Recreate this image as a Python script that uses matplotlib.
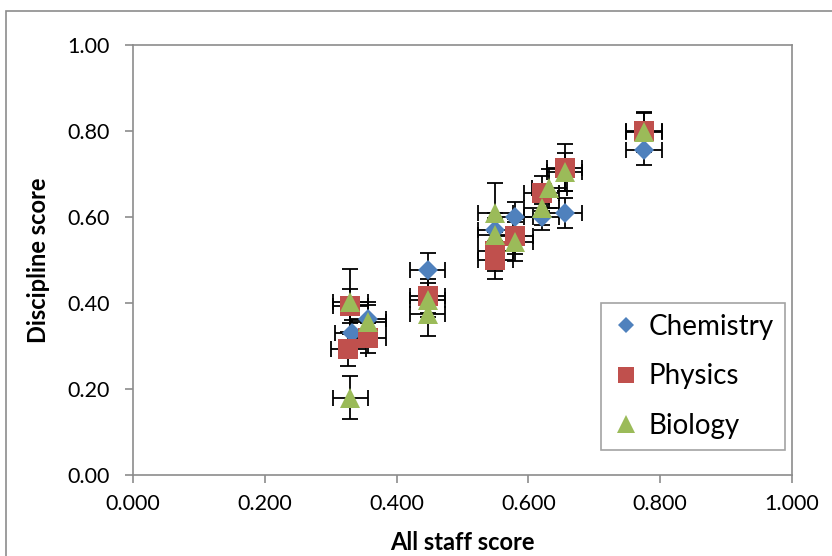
import matplotlib
matplotlib.use("Agg")
import matplotlib.pyplot as plt
from matplotlib.patches import Rectangle
from matplotlib.ticker import FormatStrFormatter

plt.rcParams['font.family'] = ['Lato', 'DejaVu Sans']

# Chemistry
chem_x = [0.333, 0.357, 0.447, 0.550, 0.580, 0.620, 0.655, 0.775]
chem_y = [0.330, 0.362, 0.477, 0.570, 0.600, 0.600, 0.610, 0.755]
chem_err = [0.030, 0.040, 0.040, 0.040, 0.035, 0.030, 0.035, 0.035]

# Physics
phys_x = [0.327, 0.330, 0.357, 0.447, 0.550, 0.550, 0.580, 0.620, 0.655, 0.775]
phys_y = [0.293, 0.393, 0.318, 0.416, 0.520, 0.500, 0.555, 0.655, 0.715, 0.800]
phys_err = [0.040, 0.040, 0.035, 0.040, 0.045, 0.045, 0.040, 0.040, 0.055, 0.045]

# Biology
bio_x = [0.330, 0.330, 0.357, 0.447, 0.447, 0.550, 0.550, 0.580, 0.620, 0.632, 0.655, 0.775]
bio_y = [0.180, 0.403, 0.355, 0.407, 0.374, 0.610, 0.558, 0.543, 0.622, 0.667, 0.705, 0.797]
bio_err = [0.050, 0.075, 0.040, 0.040, 0.050, 0.070, 0.040, 0.045, 0.040, 0.045, 0.045, 0.045]

x_err = 0.027

series = [
    ("Chemistry", chem_x, chem_y, chem_err, "D", "#4F81BD", 10),
    ("Physics", phys_x, phys_y, phys_err, "s", "#C0504D", 14),
    ("Biology", bio_x, bio_y, bio_err, "^", "#9BBB59", 14.5),
]

xticks = [0.0, 0.2, 0.4, 0.6, 0.8, 1.0]
yticks = [0.0, 0.2, 0.4, 0.6, 0.8, 1.0]

fig = plt.figure(figsize=(8.32, 5.56), dpi=100)
ax = fig.add_axes([133/832, 1-475/556, (792-133)/832, (475-45)/556])

# outer chart frame
fig.patches.append(Rectangle((6/832, -0.05), 1.2, 1-11/556+0.05,
                             transform=fig.transFigure, fill=False,
                             edgecolor="#8c8c8c", linewidth=1.2))

for name, xs, ys, es, m, c, ms in series:
    ax.errorbar(xs, ys, yerr=es, xerr=x_err, fmt="none", ecolor="black",
                elinewidth=1.3, capsize=6, capthick=1.3, zorder=2)

for name, xs, ys, es, m, c, ms in series:
    ax.plot(xs, ys, linestyle="none", marker=m, color=c, markersize=ms,
            markeredgewidth=0, label=name, zorder=3)

ax.set_xlim(0, 1.0)
ax.set_ylim(0, 1.0)
ax.set_xticks(xticks)
ax.set_yticks(yticks)
ax.xaxis.set_major_formatter(FormatStrFormatter("%.3f"))
ax.yaxis.set_major_formatter(FormatStrFormatter("%.2f"))
ax.tick_params(axis="both", direction="out", length=6, width=1.2,
               color="#8c8c8c", labelsize=15.5)
ax.tick_params(axis="y", pad=11)
ax.tick_params(axis="x", pad=8)
for s in ax.spines.values():
    s.set_color("#8c8c8c")
    s.set_linewidth(1.2)

ax.set_xlabel("All staff score", fontsize=17, fontweight="bold", labelpad=12)
ax.set_ylabel("Discipline score", fontsize=17, fontweight="bold", labelpad=12)

leg = ax.legend(loc="lower right", bbox_to_anchor=(0.989, 0.058), fontsize=20,
                frameon=True, fancybox=False, edgecolor="#8c8c8c",
                handletextpad=0.3, labelspacing=0.85, borderpad=0.4,
                handlelength=1.0, borderaxespad=0, markerscale=0.85)
leg.get_frame().set_linewidth(1.2)

fig.savefig("out.png", dpi=100)
